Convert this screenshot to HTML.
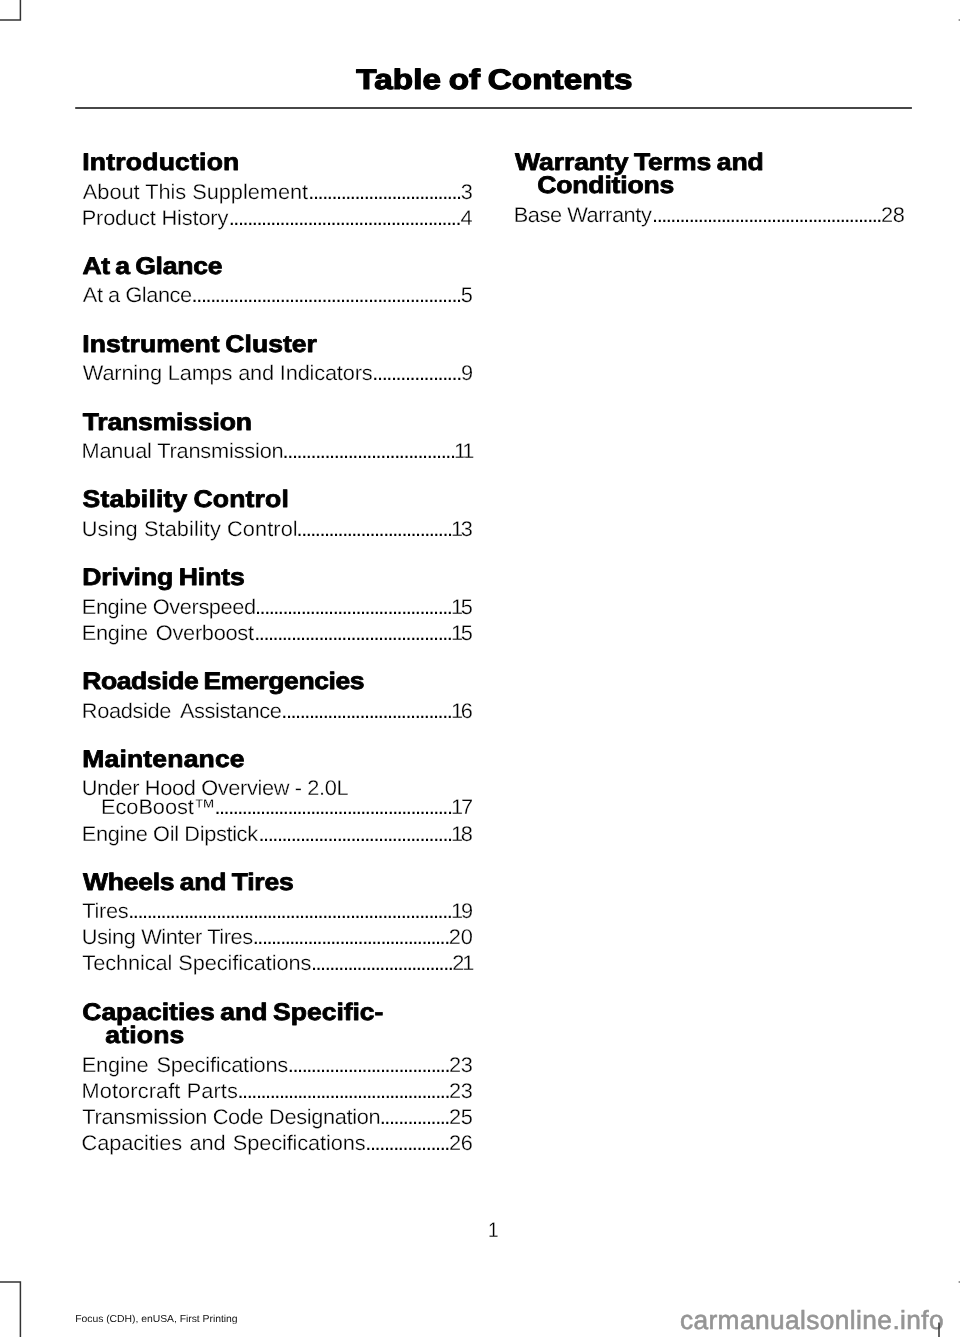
<!DOCTYPE html>
<html lang="en">
<head>
<meta charset="utf-8">
<title>Table of Contents</title>
<style>
html,body{margin:0;padding:0;background:#fff}
body{width:960px;height:1337px;overflow:hidden}
svg{display:block;font-family:"Liberation Sans",Arial,sans-serif;text-rendering:geometricPrecision;fill:#000}
.t{font-size:28.2px;font-weight:bold;stroke:#000;stroke-width:1.2px;stroke-linejoin:round}
.h{font-size:24.0px;font-weight:bold;stroke:#000;stroke-width:0.8px;stroke-linejoin:round}
.e{font-size:21.15px;stroke:#fff;stroke-width:0.28px}
.n{text-anchor:end}
.d{font-size:21.15px}
.pn{font-size:21.15px;text-anchor:end;stroke:#fff;stroke-width:0.28px}
.foot{font-size:10.1px;fill:#111}
.wm{font-size:26.3px;fill:#959595;stroke:#959595;stroke-width:0.6px}
.crop{stroke:#333;stroke-width:1.5;fill:none}
</style>
</head>
<body>
<svg width="960" height="1337" viewBox="0 0 960 1337">
<rect width="960" height="1337" fill="#fff"/>
<text class="t" transform="translate(356.33 88.9) scale(1.179 1)" style="letter-spacing:0.08px;word-spacing:-1.53px">Table of Contents</text>
<rect x="75.2" y="107" width="836.7" height="2" fill="#474747"/>
<text class="h" transform="translate(82.27 170) scale(1.106 1)" style="letter-spacing:0.18px;word-spacing:-1.54px">Introduction</text>
<text class="e" transform="translate(82.81 199) scale(1.03 1)" style="letter-spacing:-0.03px">About This Supplement</text>
<text class="e n" transform="translate(472.76 199) scale(1.03 1)" style="letter-spacing:-0.19px">3</text>
<text class="d" transform="translate(308.31 199) scale(1.03 1)" style="letter-spacing:-1.39px">.................................</text>
<text class="e" transform="translate(81.67 225) scale(1.03 1)" style="letter-spacing:-0.15px">Product History</text>
<text class="e n" transform="translate(472.44 225) scale(1.03 1)" style="letter-spacing:-0.19px">4</text>
<text class="d" transform="translate(228.71 225) scale(1.03 1)" style="letter-spacing:-1.38px">..................................................</text>
<text class="h" transform="translate(82.38 274) scale(1.106 1)" style="letter-spacing:-0.23px;word-spacing:-1.54px">At a Glance</text>
<text class="e" transform="translate(82.81 302) scale(1.03 1)" style="letter-spacing:-0.43px">At a Glance</text>
<text class="e n" transform="translate(472.71 302) scale(1.03 1)" style="letter-spacing:-0.19px">5</text>
<text class="d" transform="translate(191.61 302) scale(1.03 1)" style="letter-spacing:-1.37px">..........................................................</text>
<text class="h" transform="translate(82.27 352) scale(1.106 1)" style="letter-spacing:0.02px;word-spacing:-1.54px">Instrument Cluster</text>
<text class="e" transform="translate(82.86 380) scale(1.03 1)" style="letter-spacing:-0.17px">Warning Lamps and Indicators</text>
<text class="e n" transform="translate(472.83 380) scale(1.03 1)" style="letter-spacing:-0.19px">9</text>
<text class="d" transform="translate(372.31 380) scale(1.03 1)" style="letter-spacing:-1.35px">...................</text>
<text class="h" transform="translate(82.74 430) scale(1.106 1)" style="letter-spacing:-0.16px;word-spacing:-1.54px">Transmission</text>
<text class="e" transform="translate(81.47 458) scale(1.03 1)" style="letter-spacing:-0.19px">Manual Transmission</text>
<text class="e n" transform="translate(472.16 458) scale(1.03 1)" style="letter-spacing:-2.14px">11</text>
<text class="d" transform="translate(282.61 458) scale(1.03 1)" style="letter-spacing:-1.36px">.....................................</text>
<text class="h" transform="translate(82.58 507) scale(1.106 1)" style="letter-spacing:0.17px;word-spacing:-1.54px">Stability Control</text>
<text class="e" transform="translate(81.68 536) scale(1.03 1)" style="letter-spacing:0.08px">Using Stability Control</text>
<text class="e n" transform="translate(470.76 536) scale(1.03 1)" style="letter-spacing:-2.14px">13</text>
<text class="d" transform="translate(296.61 536) scale(1.03 1)" style="letter-spacing:-1.45px">..................................</text>
<text class="h" transform="translate(82.27 585) scale(1.106 1)" style="letter-spacing:-0.07px;word-spacing:-1.54px">Driving Hints</text>
<text class="e" transform="translate(81.77 614) scale(1.03 1)" style="letter-spacing:-0.39px">Engine Overspeed</text>
<text class="e n" transform="translate(470.71 614) scale(1.03 1)" style="letter-spacing:-2.14px">15</text>
<text class="d" transform="translate(255.01 614) scale(1.03 1)" style="letter-spacing:-1.44px">...........................................</text>
<text class="e" transform="translate(81.77 640) scale(1.03 1)" style="letter-spacing:-0.28px;word-spacing:2.14px">Engine Overboost</text>
<text class="e n" transform="translate(470.71 640) scale(1.03 1)" style="letter-spacing:-2.14px">15</text>
<text class="d" transform="translate(254.21 640) scale(1.03 1)" style="letter-spacing:-1.42px">...........................................</text>
<text class="h" transform="translate(82.17 689) scale(1.106 1)" style="letter-spacing:-0.38px;word-spacing:-1.54px">Roadside Emergencies</text>
<text class="e" transform="translate(81.87 718) scale(1.03 1)" style="letter-spacing:-0.36px;word-spacing:4.37px">Roadside Assistance</text>
<text class="e n" transform="translate(470.76 718) scale(1.03 1)" style="letter-spacing:-2.14px">16</text>
<text class="d" transform="translate(281.31 718) scale(1.03 1)" style="letter-spacing:-1.41px">.....................................</text>
<text class="h" transform="translate(82.27 767) scale(1.106 1)" style="letter-spacing:0.14px;word-spacing:-1.54px">Maintenance</text>
<text class="e" transform="translate(81.68 795) scale(1.03 1)" style="letter-spacing:-0.35px">Under Hood Overview - 2.0L</text>
<text class="e" transform="translate(101.07 814) scale(1.03 1)" style="letter-spacing:-0.06px">EcoBoost™</text>
<text class="e n" transform="translate(470.9 814) scale(1.03 1)" style="letter-spacing:-2.14px">17</text>
<text class="d" transform="translate(214.51 814) scale(1.03 1)" style="letter-spacing:-1.45px">....................................................</text>
<text class="e" transform="translate(81.77 841) scale(1.03 1)" style="letter-spacing:-0.35px">Engine Oil Dipstick</text>
<text class="e n" transform="translate(470.75 841) scale(1.03 1)" style="letter-spacing:-2.14px">18</text>
<text class="d" transform="translate(258.51 841) scale(1.03 1)" style="letter-spacing:-1.41px">..........................................</text>
<text class="h" transform="translate(82.92 890) scale(1.106 1)" style="letter-spacing:-0.22px;word-spacing:-1.54px">Wheels and Tires</text>
<text class="e" transform="translate(82.37 918) scale(1.03 1)" style="letter-spacing:-0.32px">Tires</text>
<text class="e n" transform="translate(470.83 918) scale(1.03 1)" style="letter-spacing:-2.14px">19</text>
<text class="d" transform="translate(128.21 918) scale(1.03 1)" style="letter-spacing:-1.39px">......................................................................</text>
<text class="e" transform="translate(81.68 944) scale(1.03 1)" style="letter-spacing:-0.36px">Using Winter Tires</text>
<text class="e n" transform="translate(472.65 944) scale(1.03 1)" style="letter-spacing:-0.19px">20</text>
<text class="d" transform="translate(252.81 944) scale(1.03 1)" style="letter-spacing:-1.45px">...........................................</text>
<text class="e" transform="translate(82.37 970) scale(1.03 1)" style="letter-spacing:-0.09px">Technical Specifications</text>
<text class="e n" transform="translate(472.16 970) scale(1.03 1)" style="letter-spacing:-2.14px">21</text>
<text class="d" transform="translate(311.01 970) scale(1.03 1)" style="letter-spacing:-1.45px">...............................</text>
<text class="h" transform="translate(82.25 1020) scale(1.106 1)" style="letter-spacing:-0.03px;word-spacing:-1.54px">Capacities and Specific-</text>
<text class="h" transform="translate(105.31 1043) scale(1.106 1)" style="letter-spacing:0.15px;word-spacing:-1.54px">ations</text>
<text class="e" transform="translate(81.77 1072) scale(1.03 1)" style="letter-spacing:-0.19px;word-spacing:2.14px">Engine Specifications</text>
<text class="e n" transform="translate(472.76 1072) scale(1.03 1)" style="letter-spacing:-0.19px">23</text>
<text class="d" transform="translate(287.81 1072) scale(1.03 1)" style="letter-spacing:-1.4px">...................................</text>
<text class="e" transform="translate(81.47 1098) scale(1.03 1)" style="letter-spacing:0.1px">Motorcraft Parts</text>
<text class="e n" transform="translate(472.76 1098) scale(1.03 1)" style="letter-spacing:-0.19px">23</text>
<text class="d" transform="translate(237.51 1098) scale(1.03 1)" style="letter-spacing:-1.41px">..............................................</text>
<text class="e" transform="translate(82.37 1124) scale(1.03 1)" style="letter-spacing:-0.33px">Transmission Code Designation</text>
<text class="e n" transform="translate(472.71 1124) scale(1.03 1)" style="letter-spacing:-0.19px">25</text>
<text class="d" transform="translate(379.71 1124) scale(1.03 1)" style="letter-spacing:-1.39px">...............</text>
<text class="e" transform="translate(81.55 1150) scale(1.03 1)" style="letter-spacing:-0.11px;word-spacing:1.36px">Capacities and Specifications</text>
<text class="e n" transform="translate(472.76 1150) scale(1.03 1)" style="letter-spacing:-0.19px">26</text>
<text class="d" transform="translate(365.31 1150) scale(1.03 1)" style="letter-spacing:-1.36px">..................</text>
<text class="h" transform="translate(515.02 170) scale(1.106 1)" style="letter-spacing:-0.08px;word-spacing:-1.54px">Warranty Terms and</text>
<text class="h" transform="translate(537.25 193) scale(1.106 1)" style="letter-spacing:-0.15px;word-spacing:-1.54px">Conditions</text>
<text class="e" transform="translate(513.77 222) scale(1.03 1)" style="letter-spacing:-0.42px">Base Warranty</text>
<text class="e n" transform="translate(904.75 222) scale(1.03 1)" style="letter-spacing:-0.19px">28</text>
<text class="d" transform="translate(652.06 222) scale(1.03 1)" style="letter-spacing:-1.43px">..................................................</text>
<text class="pn" transform="translate(498.53 1237) scale(0.9 1)">1</text>
<text class="foot" transform="translate(75.15 1322) scale(1.03 1)" style="letter-spacing:-0.03px">Focus (CDH), enUSA, First Printing</text>
<rect x="70" y="1323.8" width="180" height="8" fill="#fff"/>
<text class="wm" transform="translate(679.88 1329)" style="letter-spacing:0.4px">carmanualsonline.info</text>
<path class="crop" d="M0 20H20.4V0M0 1282H20.4V1337M939 1322.5V1337"/>
<path class="crop" d="M958.6 20H960M958.6 1282H960" style="stroke:#777"/>
</svg>
</body>
</html>
